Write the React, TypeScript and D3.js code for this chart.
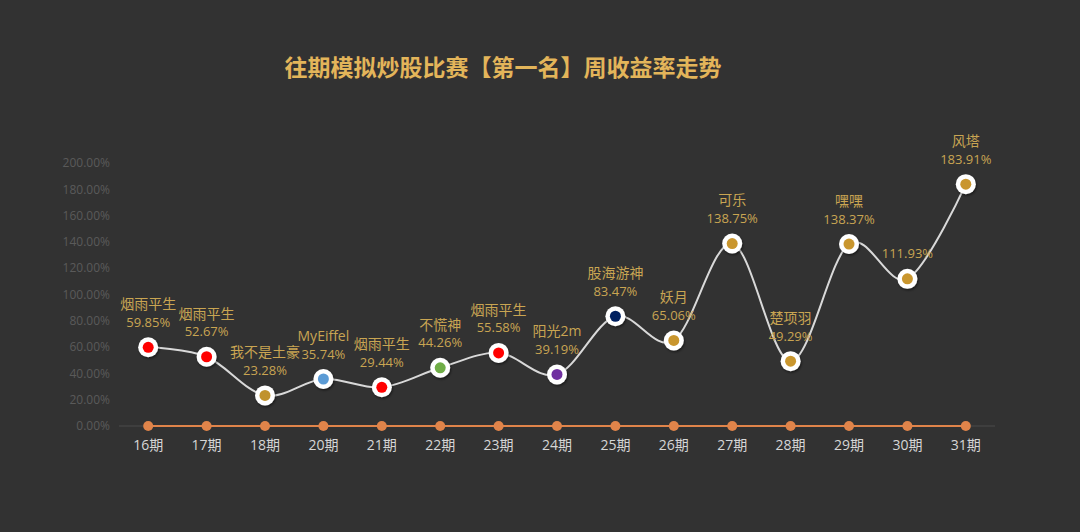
import React from "react";
import * as d3 from "d3";

const categories = ["16期", "17期", "18期", "20期", "21期", "22期", "23期", "24期", "25期", "26期", "27期", "28期", "29期", "30期", "31期"];
const winners = ["烟雨平生", "烟雨平生", "我不是土豪", "MyEiffel", "烟雨平生", "不慌神", "烟雨平生", "阳光2m", "股海游神", "妖月", "可乐", "楚项羽", "嘿嘿", "", "风塔"];
const returns = [59.85, 52.67, 23.28, 35.74, 29.44, 44.26, 55.58, 39.19, 83.47, 65.06, 138.75, 49.29, 138.37, 111.93, 183.91];
const baseline = [0, 0, 0, 0, 0, 0, 0, 0, 0, 0, 0, 0, 0, 0, 0];
const markerColors = ["#ff0000", "#ff0000", "#c0922e", "#5b9bd5", "#ff0000", "#70ad47", "#ff0000", "#7030a0", "#002060", "#c9962e", "#c9962e", "#c9962e", "#c9962e", "#c9962e", "#c9962e"];
const yTicks = [0, 20, 40, 60, 80, 100, 120, 140, 160, 180, 200];
const title = "往期模拟炒股比赛【第一名】周收益率走势";

const W = 1080, H = 532;
const plot = { left: 119, right: 995, top: 163, bottom: 426 };

export default function App() {
  const x = d3.scalePoint<string>().domain(categories).range([plot.left, plot.right]).padding(0.5);
  const y = d3.scaleLinear().domain([0, 200]).range([plot.bottom, plot.top]);
  const line = d3.line<number>()
    .x((_, i) => x(categories[i])!)
    .y((d) => y(d))
    .curve(d3.curveCardinal.tension(0));
  const flat = d3.line<number>().x((_, i) => x(categories[i])!).y((d) => y(d));
  const font = "'Open Sans','Noto Sans CJK SC',sans-serif";
  return (
    <svg width={W} height={H} style={{ position: "absolute", left: 0, top: 0, background: "#323232" }}>
      <defs>
        <filter id="sh" x="-50%" y="-50%" width="200%" height="200%">
          <feDropShadow dx="1" dy="1.5" stdDeviation="1.2" floodColor="#000" floodOpacity="0.5" />
        </filter>
      </defs>
      <rect width={W} height={H} fill="#323232" />
      <text x={503} y={76} textAnchor="middle" fill="#e3b55a" fontSize={23} fontWeight="bold" fontFamily="'Noto Sans CJK SC',sans-serif">{title}</text>
      {yTicks.map((t) => (
        <text key={t} x={110} y={y(t)} dy="0.35em" textAnchor="end" fill="#5a5a5a" fontSize={12} fontFamily={font}>{t.toFixed(2) + "%"}</text>
      ))}
      <line x1={plot.left} x2={plot.right} y1={y(0)} y2={y(0)} stroke="#4a4a4a" strokeWidth={1} />
      <path d={flat(baseline)!} fill="none" stroke="#e0844a" strokeWidth={2} />
      {baseline.map((v, i) => (
        <circle key={i} cx={x(categories[i])!} cy={y(v)} r={5} fill="#e0844a" />
      ))}
      {categories.map((c) => (
        <text key={c} x={x(c)!} y={445} dy="0.35em" textAnchor="middle" fill="#d6d6d6" fontSize={14} fontFamily={font}>{c}</text>
      ))}
      <path d={line(returns)!} fill="none" stroke="#d9d9d9" strokeWidth={2} />
      {returns.map((v, i) => (
        <g key={i} transform={`translate(${x(categories[i])},${y(v)})`}>
          <circle r={10} fill="#ffffff" filter="url(#sh)" />
          <circle r={5.5} fill={markerColors[i]} />
        </g>
      ))}
      {returns.map((v, i) => (
        <g key={"l" + i} fontFamily={font} fill="#c9a552" textAnchor="middle">
          {winners[i] && <text x={x(categories[i])!} y={y(v) - 43} dy="0.35em" fontSize={14}>{winners[i]}</text>}
          <text x={x(categories[i])!} y={y(v) - 25} dy="0.35em" fontSize={13}>{v.toFixed(2) + "%"}</text>
        </g>
      ))}
    </svg>
  );
}
